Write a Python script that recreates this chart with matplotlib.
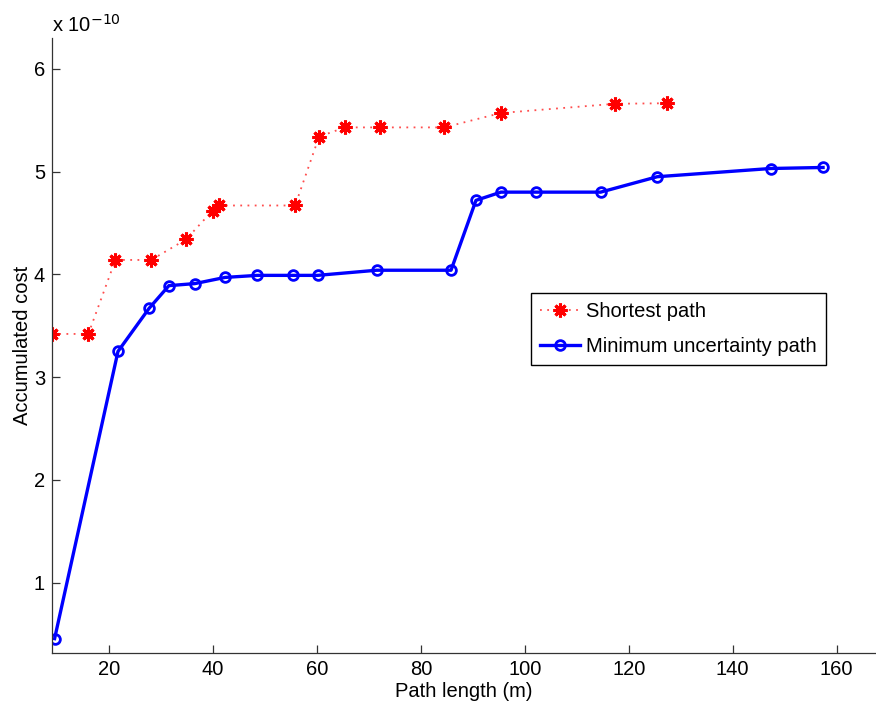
import matplotlib
matplotlib.use("Agg")
import matplotlib.pyplot as plt

plt.rcParams['font.family'] = ['Liberation Sans', 'DejaVu Sans']

# path lengths (m) and accumulated cost (units of 1e-10)
corto_x = [9.0, 16.0, 21.2, 28.1, 34.8, 39.9, 41.2, 55.8, 60.4, 65.4, 72.1, 84.5, 95.4, 117.4, 127.3]
corto_y = [3.42, 3.42, 4.14, 4.14, 4.34, 4.62, 4.67, 4.67, 5.34, 5.43, 5.43, 5.43, 5.57, 5.66, 5.665]

incert_x = [9.5, 21.7, 27.7, 31.5, 36.5, 42.3, 48.5, 55.3, 60.1, 71.5, 85.8, 90.6, 95.4, 102.1, 114.6, 125.5, 147.3, 157.4]
incert_y = [0.455, 3.25, 3.67, 3.89, 3.91, 3.97, 3.99, 3.99, 3.99, 4.04, 4.04, 4.72, 4.80, 4.80, 4.80, 4.95, 5.03, 5.04]

fs = 14.5

fig = plt.figure(figsize=(8.76, 7.04), dpi=100)
ax = fig.add_axes([52/876, 1-653/704, 823/876, 615/704])

ax.plot(corto_x, corto_y, color=(1, 0.3, 0.3), linestyle=(0, (1, 3)), linewidth=1.3,
        marker=(8, 2, 0), markersize=10, markeredgewidth=2.2, markeredgecolor='red',
        markerfacecolor='red', label='Shortest path')
ax.plot(incert_x, incert_y, color='blue', linestyle='-', linewidth=2.4,
        marker='o', markersize=7, markerfacecolor='none', markeredgewidth=2,
        markeredgecolor='blue', label='Minimum uncertainty path')

ax.set_xlim(9, 167.4)
ax.set_ylim(0.315, 6.3)
ax.set_xticks([20, 40, 60, 80, 100, 120, 140, 160])
ax.set_yticks([1, 2, 3, 4, 5, 6])

for s in ['top', 'right']:
    ax.spines[s].set_visible(False)
for s in ['left', 'bottom']:
    ax.spines[s].set_color('#333333')
    ax.spines[s].set_linewidth(0.9)
ax.tick_params(direction='in', length=6, width=0.9, color='#333333', labelsize=fs, pad=5)

ax.set_xlabel('Path length (m)', fontsize=fs, labelpad=2)
ax.set_ylabel('Accumulated cost', fontsize=fs, labelpad=1)
ax.text(0.0, 1.0098, r'x 10$^{-10}$', transform=ax.transAxes, fontsize=fs, ha='left', va='baseline')

leg = ax.legend(loc='upper left', bbox_to_anchor=(0.582, 0.585), fontsize=fs,
                fancybox=False, edgecolor='black', framealpha=1, borderpad=0.45,
                borderaxespad=0, handlelength=2.0, handletextpad=0.3, labelspacing=0.8)
leg.get_frame().set_linewidth(1.0)

fig.savefig('out.png', dpi=100)
